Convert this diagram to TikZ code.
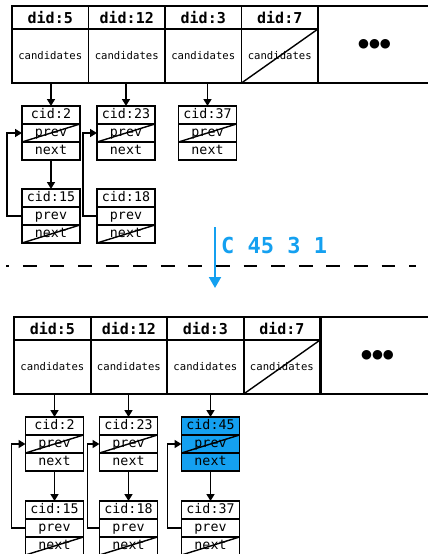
\documentclass[tikz,border=0pt]{standalone}
\usepackage{fontspec}
\setmonofont{DejaVu Sans Mono}
\newfontfamily\dotfont{DejaVu Sans}
\usepackage{tikz}
\usetikzlibrary{arrows.meta, positioning}
\definecolor{cmdblue}{RGB}{20, 160, 240}

\begin{document}
\begin{tikzpicture}[x=1pt, y=-1pt,
    didcell/.style={draw, line width=1.7pt, outer sep=0pt, minimum width=76.5pt, minimum height=23pt,
                    inner sep=0pt, font=\fontsize{15}{15}\selectfont\ttfamily\bfseries},
    candcell/.style={draw, line width=1.7pt, outer sep=0pt, minimum width=76.5pt, minimum height=54pt,
                     inner sep=0pt, font=\fontsize{10.6}{10.6}\selectfont\ttfamily},
    morecell/.style={draw, line width=1.7pt, outer sep=0pt, minimum width=113pt, minimum height=77pt,
                     inner sep=0pt, font=\fontsize{12.5}{12.5}\selectfont\dotfont},
    cidcell/.style={draw, line width=1.7pt, outer sep=0pt, minimum width=58pt, minimum height=18pt,
                    inner sep=0pt, text height=9.5pt, text depth=2.5pt,
                    font=\fontsize{13.3}{13.3}\selectfont\ttfamily},
    ptr/.style={-{Triangle[length=7pt, width=8pt]}, line width=1.6pt},
    nullptr/.style={line width=1.4pt}]
    \useasboundingbox (0,0) rectangle (428,554);
    \clip (0,0) rectangle (428,554);

    % before: did table
    \node[didcell] (d5) at (50.25,17.5) {did:5};
    \node[didcell, right=0pt of d5] (d12) {did:12};
    \node[didcell, right=0pt of d12] (d3) {did:3};
    \node[didcell, right=0pt of d3] (d7) {did:7};
    \node[candcell, below=0pt of d5] (c5) {candidates};
    \node[candcell, below=0pt of d12] (c12) {candidates};
    \node[candcell, below=0pt of d3] (c3) {candidates};
    \node[candcell, below=0pt of d7] (c7) {candidates};
    \node[morecell] (more) at (374.5,44.5) {●●●};
    \draw[nullptr] (c7.south west) -- (c7.north east);

    % before: candidate lists
    \node[cidcell] (t2) at (51,115) {cid:2};
    \node[cidcell, below=0pt of t2] (t2p) {prev};
    \node[cidcell, below=0pt of t2p] (t2n) {next};
    \node[cidcell] (t23) at (126,115) {cid:23};
    \node[cidcell, below=0pt of t23] (t23p) {prev};
    \node[cidcell, below=0pt of t23p] (t23n) {next};
    \node[cidcell] (t37) at (207.5,115) {cid:37};
    \node[cidcell, below=0pt of t37] (t37p) {prev};
    \node[cidcell, below=0pt of t37p] (t37n) {next};
    \node[cidcell] (t15) at (51,198) {cid:15};
    \node[cidcell, below=0pt of t15] (t15p) {prev};
    \node[cidcell, below=0pt of t15p] (t15n) {next};
    \node[cidcell] (t18) at (126,198) {cid:18};
    \node[cidcell, below=0pt of t18] (t18p) {prev};
    \node[cidcell, below=0pt of t18p] (t18n) {next};

    \draw[ptr] (t2.north |- c5.south) -- (t2.north);
    \draw[ptr] (t23.north |- c12.south) -- (t23.north);
    \draw[ptr] (t37.north |- c3.south) -- (t37.north);
    \draw[ptr] (t2n.south) -- (t15.north);
    \draw[ptr] (t15p.west) -- ++(-15,0) |- (t2p.west);
    \draw[ptr] (t18p.west) -- ++(-14,0) |- (t23p.west);
    \draw[nullptr] (t2p.south west) -- (t2p.north east);
    \draw[nullptr] (t23p.south west) -- (t23p.north east);
    \draw[nullptr] (t37p.south west) -- (t37p.north east);
    \draw[nullptr] (t15n.south west) -- (t15n.north east);
    \draw[nullptr] (t18n.south west) -- (t18n.north east);

    % command
    \coordinate (cmdtop) at (215,227);
    \coordinate (cmdbot) at (215,288);
    \coordinate (sepl) at (6,266);
    \coordinate (sepr) at (416,266);
    \draw[line width=1.8pt, dash pattern=on 13.8pt off 13.8pt, dash phase=10.8pt] (sepl) -- (sepr);
    \draw[-{Triangle[length=11pt, width=12pt]}, cmdblue, line width=2pt] (cmdtop) -- (cmdbot);
    \node[anchor=west, inner sep=0pt, text=cmdblue,
          font=\fontsize{22}{22}\selectfont\ttfamily\bfseries] (cmd) at (221,245) {C 45 3 1};

    % after: did table
    \node[didcell] (bd5) at (52.4,328.5) {did:5};
    \node[didcell, right=0pt of bd5] (bd12) {did:12};
    \node[didcell, right=0pt of bd12] (bd3) {did:3};
    \node[didcell, right=0pt of bd3] (bd7) {did:7};
    \node[candcell, below=0pt of bd5] (bc5) {candidates};
    \node[candcell, below=0pt of bd12] (bc12) {candidates};
    \node[candcell, below=0pt of bd3] (bc3) {candidates};
    \node[candcell, below=0pt of bd7] (bc7) {candidates};
    \node[morecell] (bmore) at (377.5,355.5) {●●●};
    \draw[nullptr] (bc7.south west) -- (bc7.north east);

    % after: candidate lists
    \node[cidcell] (b2) at (54.5,426) {cid:2};
    \node[cidcell, below=0pt of b2] (b2p) {prev};
    \node[cidcell, below=0pt of b2p] (b2n) {next};
    \node[cidcell] (b23) at (128.5,426) {cid:23};
    \node[cidcell, below=0pt of b23] (b23p) {prev};
    \node[cidcell, below=0pt of b23p] (b23n) {next};
    \node[cidcell, fill=cmdblue] (b45) at (210.5,426) {cid:45};
    \node[cidcell, fill=cmdblue, below=0pt of b45] (b45p) {prev};
    \node[cidcell, fill=cmdblue, below=0pt of b45p] (b45n) {next};
    \node[cidcell] (b15) at (54.5,510) {cid:15};
    \node[cidcell, below=0pt of b15] (b15p) {prev};
    \node[cidcell, below=0pt of b15p] (b15n) {next};
    \node[cidcell] (b18) at (128.5,510) {cid:18};
    \node[cidcell, below=0pt of b18] (b18p) {prev};
    \node[cidcell, below=0pt of b18p] (b18n) {next};
    \node[cidcell] (b37) at (210.5,510) {cid:37};
    \node[cidcell, below=0pt of b37] (b37p) {prev};
    \node[cidcell, below=0pt of b37p] (b37n) {next};

    \draw[ptr] (b2.north |- bc5.south) -- (b2.north);
    \draw[ptr] (b23.north |- bc12.south) -- (b23.north);
    \draw[ptr] (b45.north |- bc3.south) -- (b45.north);
    \draw[ptr] (b2n.south) -- (b15.north);
    \draw[ptr] (b23n.south) -- (b18.north);
    \draw[ptr] (b45n.south) -- (b37.north);
    \draw[ptr] (b15p.west) -- ++(-14,0) |- (b2p.west);
    \draw[ptr] (b18p.west) -- ++(-12,0) |- (b23p.west);
    \draw[ptr] (b37p.west) -- ++(-14,0) |- (b45p.west);
    \draw[nullptr] (b2p.south west) -- (b2p.north east);
    \draw[nullptr] (b23p.south west) -- (b23p.north east);
    \draw[nullptr] (b45p.south west) -- (b45p.north east);
    \draw[nullptr] (b15n.south west) -- (b15n.north east);
    \draw[nullptr] (b18n.south west) -- (b18n.north east);
    \draw[nullptr] (b37n.south west) -- (b37n.north east);
\end{tikzpicture}
\end{document}
